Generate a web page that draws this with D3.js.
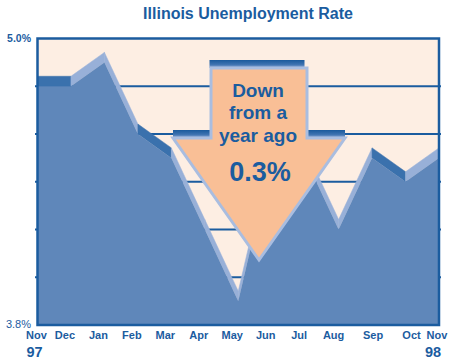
<!DOCTYPE html>
<html>
<head>
<meta charset="utf-8">
<script src="https://cdn.jsdelivr.net/npm/d3@7/dist/d3.min.js"></script>
<style>
  html, body { margin: 0; padding: 0; background: #ffffff; }
  svg { display: block; font-family: "Liberation Sans", Arial, Helvetica, sans-serif; }
</style>
</head>
<body>
<svg id="chart" width="449" height="360"></svg>
<script>
// Monthly Illinois unemployment rate, Nov 1997 – Nov 1998 (percent)
const months = ["Nov", "Dec", "Jan", "Feb", "Mar", "Apr", "May", "Jun", "Jul", "Aug", "Sep", "Oct", "Nov"];
const rates  = [4.8, 4.8, 4.9, 4.6, 4.5, 4.2, 3.9, 4.5, 4.5, 4.2, 4.5, 4.4, 4.5];
const years  = ["97", "98"];
const gridValues = [4.0, 4.2, 4.4, 4.6, 4.8];
const yDomain = [3.8, 5.0];
const calloutLines = ["Down", "from a", "year ago"];

const C = {
  ink: "#1b5c9f",
  cream: "#fdeee3",
  face: "#5f87ba",
  bandLight: "#98b0d8",
  bandDark: "#3a71ad",
  peach: "#f9bf96",
  arrowEdge: "#a9bde0"
};

const svg = d3.select("#chart");
const plot = { left: 37.5, right: 439, top: 38.5, bottom: 325 };
const depth = 10; // height of the extruded top of the area

const x = d3.scalePoint().domain(d3.range(months.length)).range([plot.left, plot.right]);
const y = d3.scaleLinear().domain(yDomain).range([plot.bottom, plot.top]);

// Title
svg.append("text")
  .attr("x", 248).attr("y", 19)
  .attr("text-anchor", "middle")
  .attr("font-size", 16).attr("font-weight", "bold")
  .attr("fill", C.ink)
  .text("Illinois Unemployment Rate");

// Plot background
svg.append("rect")
  .attr("x", plot.left).attr("y", plot.top)
  .attr("width", plot.right - plot.left).attr("height", plot.bottom - plot.top)
  .attr("fill", C.cream);

// Gridlines
svg.append("g").selectAll("line").data(gridValues).join("line")
  .attr("x1", plot.left - 2.5).attr("x2", plot.right + 2)
  .attr("y1", d => y(d)).attr("y2", d => y(d))
  .attr("stroke", C.ink).attr("stroke-width", 2);

// Extruded top band of the area, one quad per segment:
// rising or steep segments catch the light, gentle ones stay dark
const pts = rates.map((v, i) => [x(i), y(v)]);
const segs = d3.pairs(pts);
const bandColor = ([a, b]) => {
  const slope = (b[1] - a[1]) / (b[0] - a[0]);
  return (slope < 0 || slope > 1.2) ? C.bandLight : C.bandDark;
};
svg.append("g").selectAll("path").data(segs).join("path")
  .attr("d", ([a, b]) => `M${a[0]},${a[1]}L${b[0]},${b[1]}L${b[0]},${b[1] - depth}L${a[0]},${a[1] - depth}Z`)
  .attr("fill", bandColor)
  .attr("stroke", bandColor)
  .attr("stroke-width", 0.5);

// Front face of the area
const area = d3.area()
  .x((d, i) => x(i))
  .y0(plot.bottom)
  .y1(d => y(d));
svg.append("path").datum(rates)
  .attr("d", area)
  .attr("fill", C.face);

// Callout arrow
const defs = svg.append("defs");
const grad = defs.append("linearGradient").attr("id", "lip").attr("x1", 0).attr("y1", 0).attr("x2", 0).attr("y2", 1);
grad.append("stop").attr("offset", "0%").attr("stop-color", "#1a5a9c");
grad.append("stop").attr("offset", "55%").attr("stop-color", "#3d72b0");
grad.append("stop").attr("offset", "100%").attr("stop-color", "#8eaad6");

const cx = 259, shaftHalf = 48, headHalf = 86;
const topY = 68, shoulderY = 138, tipY = 260, lip = 8;
const arrow = svg.append("g");
arrow.append("rect")
  .attr("x", cx - shaftHalf - 1.5).attr("y", topY - lip)
  .attr("width", 2 * shaftHalf - 1).attr("height", lip)
  .attr("fill", "url(#lip)");
arrow.append("rect")
  .attr("x", cx - headHalf).attr("y", shoulderY - lip)
  .attr("width", headHalf - shaftHalf).attr("height", lip)
  .attr("fill", "url(#lip)");
arrow.append("rect")
  .attr("x", cx + shaftHalf).attr("y", shoulderY - lip)
  .attr("width", headHalf - shaftHalf).attr("height", lip)
  .attr("fill", "url(#lip)");
arrow.append("polygon")
  .attr("points", [
    [cx - shaftHalf, topY], [cx + shaftHalf, topY], [cx + shaftHalf, shoulderY],
    [cx + headHalf, shoulderY], [cx, tipY], [cx - headHalf, shoulderY], [cx - shaftHalf, shoulderY]
  ].map(p => p.join(",")).join(" "))
  .attr("fill", C.peach)
  .attr("stroke", C.arrowEdge)
  .attr("stroke-width", 3)
  .attr("stroke-linejoin", "miter");

const lineYs = [97, 119, 142];
arrow.selectAll("text.line").data(calloutLines).join("text")
  .attr("class", "line")
  .attr("x", cx - 1).attr("y", (d, i) => lineYs[i])
  .attr("text-anchor", "middle")
  .attr("font-size", 19).attr("font-weight", "bold")
  .attr("fill", C.ink)
  .text(d => d);

const drop = rates[0] - rates[rates.length - 1];
arrow.append("text")
  .attr("x", cx + 1).attr("y", 181)
  .attr("text-anchor", "middle")
  .attr("font-size", 27).attr("font-weight", "bold")
  .attr("fill", C.ink)
  .text(drop.toFixed(1) + "%");

// Frame
svg.append("rect")
  .attr("x", plot.left).attr("y", plot.top)
  .attr("width", plot.right - plot.left).attr("height", plot.bottom - plot.top)
  .attr("fill", "none")
  .attr("stroke", C.ink).attr("stroke-width", 2.5);

// Y-axis end labels
svg.append("text")
  .attr("x", 31).attr("y", 41.5)
  .attr("text-anchor", "end")
  .attr("font-size", 10.5).attr("font-weight", "bold")
  .attr("fill", C.ink)
  .text(yDomain[1].toFixed(1) + "%");
svg.append("text")
  .attr("x", 31).attr("y", 328)
  .attr("text-anchor", "end")
  .attr("font-size", 11)
  .attr("fill", C.ink)
  .text(yDomain[0].toFixed(1) + "%");

// Month labels: set a little left of each point, drifting right toward the end
const labelShift = i => (i === 0 ? -1 : i < 9 ? -6 : i === 9 ? -5 : i === 10 ? 1 : i === 11 ? 6 : -2);
svg.append("g").selectAll("text").data(months).join("text")
  .attr("x", (d, i) => x(i) + labelShift(i))
  .attr("y", 339)
  .attr("text-anchor", "middle")
  .attr("font-size", 11).attr("font-weight", "bold")
  .attr("fill", C.ink)
  .text(d => d);

// Year labels under the first and last months
svg.append("g").selectAll("text").data(years).join("text")
  .attr("x", (d, i) => x(i === 0 ? 0 : months.length - 1) + (i === 0 ? -3 : -6))
  .attr("y", 357)
  .attr("text-anchor", "middle")
  .attr("font-size", 14.5).attr("font-weight", "bold")
  .attr("fill", C.ink)
  .text(d => d);
</script>
</body>
</html>
